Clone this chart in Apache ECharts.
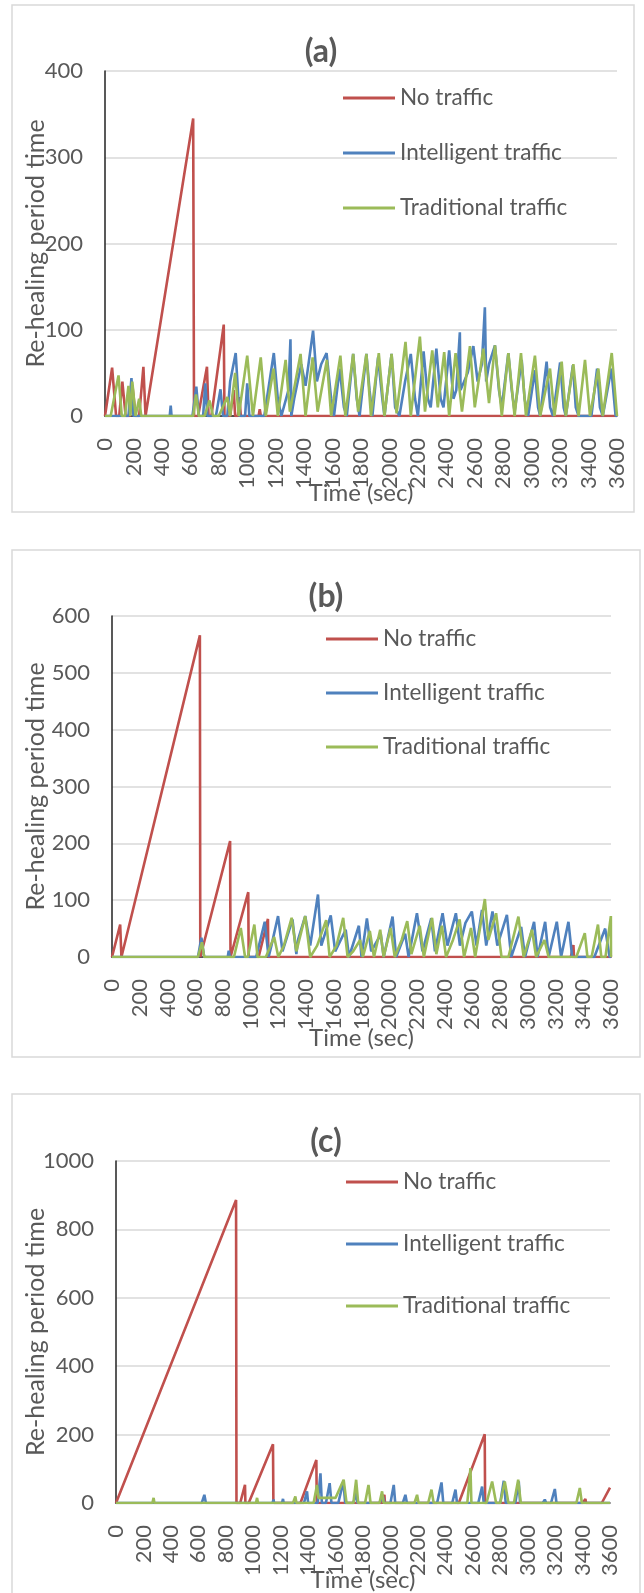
<!DOCTYPE html>
<html>
<head>
<meta charset="utf-8">
<script src="https://cdn.jsdelivr.net/npm/echarts@6/dist/echarts.min.js"></script>
<style>
html,body{margin:0;padding:0;background:#fff}
#box{width:644px;height:1593px}
</style>
</head>
<body>
<div id="box"></div>
<script>
// series names
var names = ['No traffic', 'Intelligent traffic', 'Traditional traffic'];

// (a) [time, value]
var noTrafficA = [[0,0],[50,56],[78,0],[100,0],[122,40],[145,0],[175,0],[195,32],[215,0],[240,0],[270,57],[285,0],[290,0],[620,345],[626,0],[655,0],[717,57],[728,0],[748,0],[835,106],[840,0],[880,0],[905,30],[915,0],[935,0],[945,22],[955,0],[1080,0],[1088,8],[1096,0],[3600,0]];
var intelligentA = [[0,0],[165,0],[186,44],[200,0],[455,0],[462,12],[468,0],[615,0],[642,34],[660,0],[690,0],[705,38],[720,0],[780,0],[812,31],[830,0],[860,0],[880,40],[919,73],[945,0],[985,0],[1000,38],[1015,0],[1120,0],[1187,73],[1215,20],[1240,0],[1290,30],[1304,89],[1310,0],[1330,20],[1380,60],[1410,35],[1463,99],[1490,40],[1520,60],[1558,73],[1590,20],[1610,0],[1650,55],[1680,10],[1700,0],[1745,72],[1770,20],[1790,0],[1838,72],[1860,30],[1880,0],[1920,68],[1950,20],[1965,0],[2015,72],[2040,10],[2070,0],[2110,40],[2150,72],[2180,20],[2200,0],[2240,75],[2270,20],[2290,10],[2330,78],[2360,20],[2380,10],[2420,76],[2450,20],[2470,30],[2495,97],[2500,30],[2550,50],[2590,81],[2620,40],[2650,60],[2671,126],[2680,40],[2700,60],[2742,82],[2770,30],[2790,10],[2836,73],[2860,30],[2880,5],[2930,65],[2950,20],[2975,0],[3023,53],[3045,10],[3060,0],[3105,63],[3130,10],[3150,0],[3200,62],[3225,10],[3240,0],[3290,59],[3310,10],[3330,0],[3420,0],[3460,55],[3480,10],[3500,0],[3560,55],[3590,0],[3600,0]];
var traditionalA = [[0,0],[40,0],[95,47],[118,0],[140,0],[165,35],[178,0],[192,40],[215,0],[240,20],[255,0],[620,0],[640,25],[660,0],[700,0],[735,18],[760,0],[800,0],[860,22],[880,0],[915,50],[940,0],[1000,70],[1040,0],[1095,68],[1130,0],[1185,55],[1215,0],[1270,65],[1300,5],[1375,72],[1410,0],[1460,68],[1495,5],[1560,65],[1590,0],[1655,70],[1690,0],[1745,72],[1780,5],[1838,72],[1870,0],[1925,73],[1965,0],[2015,72],[2050,3],[2113,86],[2150,0],[2214,92],[2250,5],[2301,76],[2340,10],[2385,74],[2420,0],[2465,73],[2510,5],[2566,81],[2600,10],[2660,78],[2700,15],[2742,82],[2790,0],[2836,73],[2880,0],[2925,73],[2960,0],[3023,70],[3060,0],[3129,55],[3160,0],[3211,63],[3240,0],[3293,60],[3330,0],[3375,65],[3410,0],[3469,55],[3500,0],[3563,73],[3600,0]];

// (b)
var noTrafficB = [[0,0],[59,57],[68,0],[634,566],[637,0],[648,0],[852,204],[855,0],[869,0],[983,114],[986,0],[1058,0],[1125,67],[1128,0],[3310,0],[3329,21],[3333,0],[3595,0],[3600,4]];
var intelligentB = [[0,0],[620,0],[645,34],[665,0],[835,0],[842,11],[850,0],[1040,0],[1102,62],[1130,0],[1150,20],[1198,72],[1230,10],[1302,66],[1330,5],[1342,30],[1394,72],[1430,20],[1486,110],[1510,20],[1578,73],[1610,10],[1686,48],[1710,0],[1781,55],[1800,0],[1839,68],[1870,10],[1939,40],[1960,0],[2024,71],[2050,0],[2115,41],[2140,0],[2200,77],[2240,10],[2303,68],[2330,10],[2385,77],[2420,20],[2481,77],[2510,20],[2550,60],[2596,80],[2630,20],[2669,83],[2700,20],[2745,80],[2780,20],[2849,74],[2880,0],[2952,53],[2980,0],[3045,62],[3070,0],[3125,62],[3150,0],[3209,62],[3240,0],[3293,62],[3320,0],[3480,0],[3558,50],[3590,0],[3600,0]];
var traditionalB = [[0,0],[620,0],[649,26],[665,0],[880,0],[929,51],[960,0],[980,0],[1027,57],[1050,0],[1110,0],[1170,35],[1200,0],[1240,20],[1296,69],[1330,10],[1394,72],[1430,0],[1480,20],[1545,65],[1570,0],[1620,20],[1668,69],[1700,0],[1740,10],[1790,30],[1810,0],[1860,46],[1890,0],[1935,48],[1960,0],[2010,51],[2040,0],[2090,30],[2130,63],[2160,5],[2220,55],[2250,0],[2309,69],[2340,5],[2380,55],[2410,0],[2460,30],[2508,66],[2540,0],[2590,51],[2620,0],[2690,102],[2715,30],[2771,77],[2810,0],[2860,0],[2932,71],[2970,0],[3030,48],[3060,0],[3120,30],[3150,0],[3350,0],[3411,42],[3430,0],[3460,0],[3506,57],[3530,0],[3560,0],[3599,72],[3600,0]];

// (c)
var noTrafficC = [[0,0],[875,886],[878,0],[905,0],[940,53],[943,0],[967,0],[1144,172],[1147,0],[1344,0],[1460,126],[1463,0],[1935,0],[1956,24],[1960,0],[2498,0],[2687,201],[2690,0],[3400,0],[3421,12],[3425,0],[3540,0],[3600,45]];
var intelligentC = [[0,0],[625,0],[644,24],[655,0],[1140,0],[1148,10],[1152,0],[1210,0],[1217,12],[1222,0],[1370,0],[1392,34],[1400,0],[1470,0],[1490,87],[1500,0],[1530,0],[1557,58],[1570,0],[1620,0],[1657,63],[1670,0],[1730,0],[1750,30],[1760,0],[1920,0],[1945,20],[1955,0],[2000,0],[2024,53],[2035,0],[2090,0],[2109,24],[2120,0],[2340,0],[2372,60],[2385,0],[2450,0],[2474,39],[2485,0],[2640,0],[2668,48],[2680,0],[2800,0],[2826,65],[2840,0],[2910,0],[2935,63],[2945,0],[3110,0],[3125,10],[3135,0],[3170,0],[3198,41],[3210,0],[3600,0]];
var traditionalC = [[0,0],[265,0],[274,15],[280,0],[1020,0],[1028,15],[1035,0],[1290,0],[1307,19],[1315,0],[1440,0],[1465,53],[1475,15],[1600,15],[1659,68],[1680,0],[1730,0],[1750,68],[1765,0],[1815,0],[1840,53],[1855,0],[1920,0],[1939,34],[1950,0],[2175,0],[2194,24],[2205,0],[2275,0],[2299,39],[2315,0],[2560,0],[2583,102],[2590,0],[2700,0],[2741,63],[2770,0],[2800,0],[2833,63],[2860,0],[2900,0],[2931,68],[2950,0],[3355,0],[3380,44],[3395,0],[3600,0]];

var colors = ['#C0504D', '#4F81BD', '#9BBB59'];
var font = 'Lato';
var grey = '#595959';

var panels = [
  {title:'(a)', yMax:400, yStep:100, data:[noTrafficA, intelligentA, traditionalA],
   frame:[12,5,622,507], grid:[105,71,512,345], titleXY:[321,52], legend:[343,86,31], xGap:65, yGap:57},
  {title:'(b)', yMax:600, yStep:100, data:[noTrafficB, intelligentB, traditionalB],
   frame:[12,550,628,507], grid:[112,616,499,341], titleXY:[326,597], legend:[326,627,30], xGap:69, yGap:64},
  {title:'(c)', yMax:1000, yStep:200, data:[noTrafficC, intelligentC, traditionalC],
   frame:[12,1094,628,520], grid:[116,1161,494,344], titleXY:[326,1142], legend:[346,1170,38], xGap:65, yGap:68}
];

var plain = function(v){ return String(v); };

var option = {animation:false, grid:[], xAxis:[], yAxis:[], series:[], legend:[], graphic:[]};

panels.forEach(function(p, i){
  option.graphic.push({type:'rect', shape:{x:p.frame[0], y:p.frame[1], width:p.frame[2], height:p.frame[3]},
    style:{fill:'none', stroke:'#d9d9d9', lineWidth:1.5}, z:-1});
  option.graphic.push({type:'text', x:p.titleXY[0], y:p.titleXY[1],
    style:{text:p.title, fontSize:32, fontWeight:'bold', fontFamily:font, fill:grey, align:'center', verticalAlign:'middle'}});
  option.grid.push({left:p.grid[0], top:p.grid[1], width:p.grid[2], height:p.grid[3]});
  option.xAxis.push({
    type:'value', gridIndex:i, min:0, max:3600, interval:200,
    name:'Time (sec)', nameLocation:'middle', nameGap:p.xGap, nameMoveOverlap:false,
    nameTextStyle:{fontSize:24, color:grey, fontFamily:font},
    axisLine:{lineStyle:{color:'#222', width:1.5}},
    axisTick:{show:false}, splitLine:{show:false},
    axisLabel:{rotate:90, fontSize:22, color:grey, fontFamily:font, margin:22, formatter:plain}
  });
  option.yAxis.push({
    type:'value', gridIndex:i, min:0, max:p.yMax, interval:p.yStep,
    name:'Re-healing period time', nameLocation:'middle', nameGap:p.yGap, nameMoveOverlap:false,
    nameTextStyle:{fontSize:25, color:grey, fontFamily:font},
    axisLine:{show:true, lineStyle:{color:'#222', width:1.5}},
    axisTick:{show:false},
    splitLine:{lineStyle:{color:'#d9d9d9', width:1.5}},
    axisLabel:{fontSize:22, color:grey, fontFamily:font, margin:22, formatter:plain}
  });
  option.legend.push({
    orient:'vertical', left:p.legend[0], top:p.legend[1], itemGap:p.legend[2], padding:0,
    icon:'rect', itemWidth:52, itemHeight:3, itemStyle:{borderWidth:0},
    textStyle:{fontSize:22.5, lineHeight:24, color:grey, fontFamily:font},
    data:names
  });
  p.data.forEach(function(d, k){
    option.series.push({
      name:names[k], type:'line', xAxisIndex:i, yAxisIndex:i, data:d,
      showSymbol:false, symbol:'none',
      lineStyle:{color:colors[k], width:2.6}, itemStyle:{color:colors[k]}
    });
  });
});

var mychart = echarts.init(document.getElementById('box'));
mychart.setOption(option);
</script>
</body>
</html>
